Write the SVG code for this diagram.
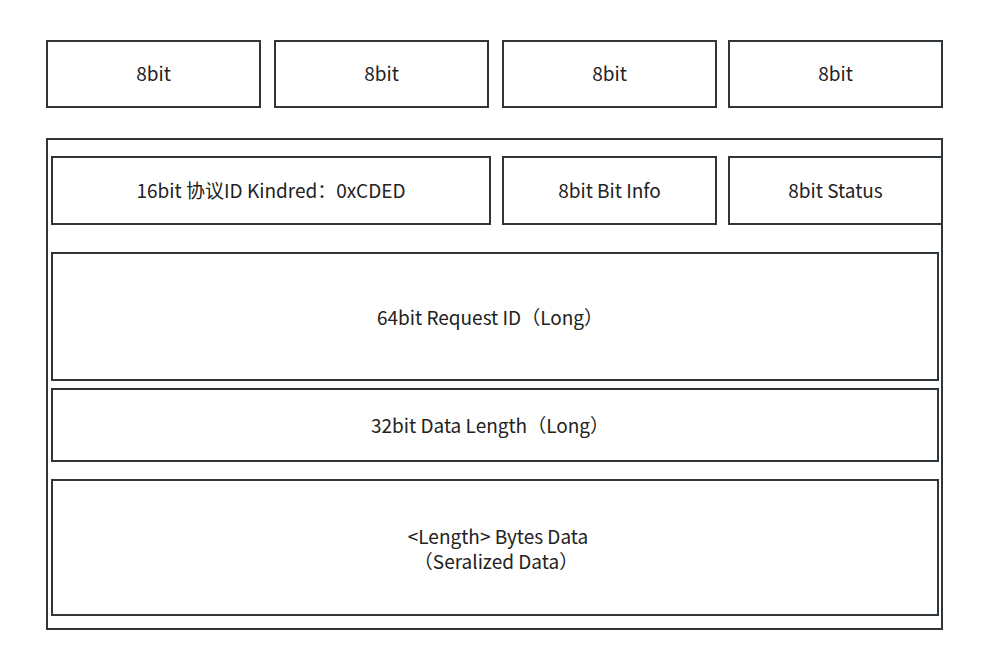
<svg xmlns="http://www.w3.org/2000/svg" width="987" height="668" viewBox="0 0 987 668">
<style>
rect{fill:#fff;stroke:#2f3538;stroke-width:2}
text{font-family:"Noto Sans CJK SC","Open Sans",sans-serif;font-size:19px;fill:#222;text-anchor:middle;dominant-baseline:central}
</style>
<rect x="0" y="0" width="987" height="668" style="stroke:none"/>
<g id="b1"><rect x="47" y="41" width="213" height="66"/><text x="153.5" y="72">8bit</text></g>
<g id="b2"><rect x="275" y="41" width="213" height="66"/><text x="381.5" y="72">8bit</text></g>
<g id="b3"><rect x="503" y="41" width="213" height="66"/><text x="609.5" y="72">8bit</text></g>
<g id="b4"><rect x="729" y="41" width="213" height="66"/><text x="835.5" y="72">8bit</text></g>
<g id="outer"><rect x="47" y="139" width="895" height="490"/></g>
<g id="kind"><rect x="52" y="157" width="438" height="67"/><text x="271" y="189">16bit 协议ID Kindred：0xCDED</text></g>
<g id="bitinfo"><rect x="503" y="157" width="213" height="67"/><text x="609.5" y="189">8bit Bit Info</text></g>
<g id="status"><rect x="729" y="157" width="213" height="67"/><text x="835.5" y="189">8bit Status</text></g>
<g id="reqid"><rect x="52" y="253" width="886" height="127"/><text x="490" y="316">64bit Request ID（Long）</text></g>
<g id="len"><rect x="52" y="389" width="886" height="72"/><text x="490" y="424">32bit Data Length（Long）</text></g>
<g id="data"><rect x="52" y="480" width="886" height="135"/><text x="498" y="535">&lt;Length&gt; Bytes Data</text><text x="496" y="560">（Seralized Data）</text></g>
<g id="connectors"/>
</svg>
